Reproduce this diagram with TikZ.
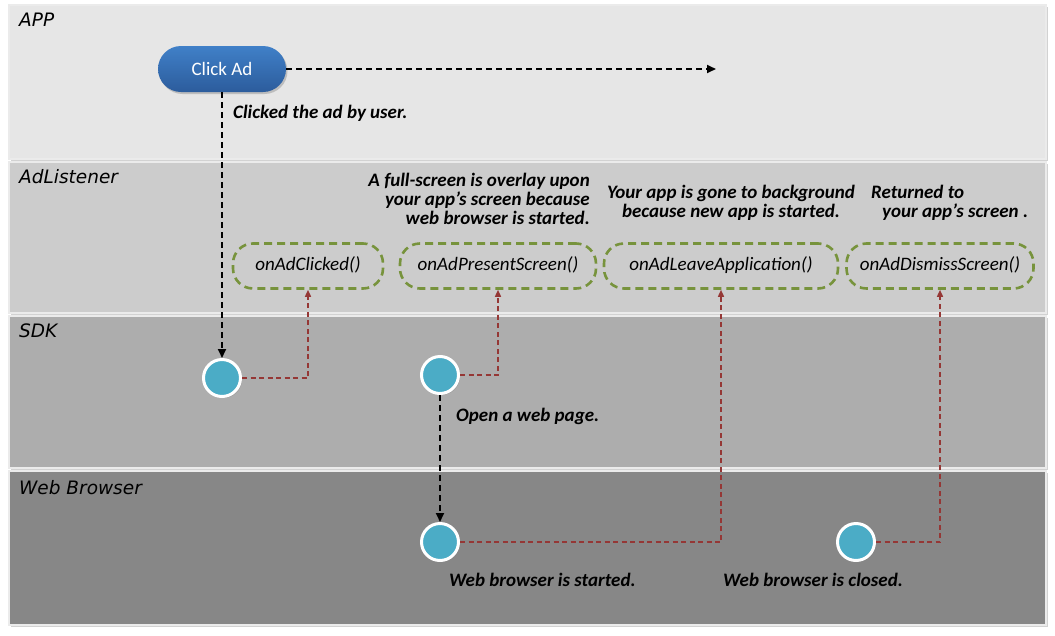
\documentclass[tikz,border=0pt]{standalone}
\usepackage{fontspec}
\setmainfont{Carlito}
\newfontfamily\lanefont{DejaVu Sans}
\usetikzlibrary{shadows,arrows.meta}
\definecolor{laneA}{HTML}{E6E6E6}
\definecolor{laneB}{HTML}{CCCCCC}
\definecolor{laneC}{HTML}{ADADAD}
\definecolor{laneD}{HTML}{878787}
\definecolor{evblue}{HTML}{4BACC6}
\definecolor{cbTop}{HTML}{4080C8}
\definecolor{cbBot}{HTML}{2C5C9C}
\definecolor{cbGreen}{HTML}{77933C}
\definecolor{cbRed}{HTML}{953735}
\tikzset{
  lane/.style={draw=white!92!black, line width=1.5pt, drop shadow={shadow xshift=2pt, shadow yshift=-2pt, opacity=0.35}},
  lanelabel/.style={font=\lanefont\itshape\fontsize{18.5}{22}\selectfont, anchor=base west, inner sep=0},
  event/.style={circle, draw=white, line width=3pt, fill=evblue, minimum size=37pt, inner sep=0, drop shadow={shadow xshift=1.5pt, shadow yshift=-1.5pt, opacity=0.4}},
  cbbox/.style={draw=cbGreen, line width=2.6pt, dash pattern=on 8pt off 5pt, rounded corners=20pt, minimum height=45pt, inner sep=0, text height=13pt, text depth=4pt, font=\itshape\fontsize{19}{22}\selectfont},
  caption/.style={font=\bfseries\itshape\fontsize{19}{19}\selectfont, inner sep=0},
  blk/.style={draw=black, line width=1.8pt, dash pattern=on 6pt off 4pt, -{Triangle[length=9pt,width=8pt]}},
  red/.style={draw=cbRed, line width=1.5pt, dash pattern=on 5pt off 3.5pt, -{Triangle[length=7pt,width=6pt]}},
}
\begin{document}
\begin{tikzpicture}[x=1pt,y=-1pt]
\useasboundingbox (0,0) rectangle (1055,635);
\fill[white] (0,0) rectangle (1055,635);
% lanes
\path[lane, fill=laneA] (9,5) rectangle (1046,159);
\path[lane, fill=laneB] (9,162) rectangle (1046,313);
\path[lane, fill=laneC] (9,316) rectangle (1046,468);
\path[lane, fill=laneD] (9,471) rectangle (1046,625);
\node[lanelabel] (lApp) at (19,26) {APP};
\node[lanelabel] (lAdl) at (19,183) {AdListener};
\node[lanelabel] (lSdk) at (19,337) {SDK};
\node[lanelabel] (lWeb) at (19,494) {Web Browser};
% click ad
\node[rounded corners=23pt, minimum width=128pt, minimum height=46pt, top color=cbTop, bottom color=cbBot, text=white, font=\fontsize{19}{22}\selectfont, drop shadow={shadow xshift=1.5pt, shadow yshift=-2pt, opacity=0.4}] (click) at (222,69) {Click Ad};
\coordinate (appEnd) at (716,69);
% events
\node[event] (e1) at (222,378) {};
\node[event] (e2) at (440,375) {};
\node[event] (e3) at (440,542) {};
\node[event] (e4) at (856,542) {};
% callbacks
\node[cbbox, minimum width=150pt] (b1) at (308,266) {onAdClicked()};
\node[cbbox, minimum width=196pt] (b2) at (498,266) {onAdPresentScreen()};
\node[cbbox, minimum width=234pt] (b3) at (721,266) {onAdLeaveApplication()};
\node[cbbox, minimum width=187pt] (b4) at (940,266) {onAdDismissScreen()};
% captions
\node[caption, anchor=base west] (t1) at (233,118) {Clicked the ad by user.};
\node[caption, anchor=base east, align=right] (t2) at (590,224) {A full-screen is overlay upon\\your app’s screen because\\web browser is started.};
\node[caption, anchor=base, align=center] (t3) at (731,217) {Your app is gone to background\\because new app is started.};
\node[caption, anchor=base west, align=left] (t4) at (871,217) {Returned to\\\hspace*{11pt}your app’s screen .};
\node[caption, anchor=base west] (t5) at (456,421) {Open a web page.};
\node[caption, anchor=base west] (t6) at (449,586) {Web browser is started.};
\node[caption, anchor=base west] (t7) at (723,586) {Web browser is closed.};
% connectors
\draw[blk] (click.east) -- (appEnd);
\draw[blk] (click.south) -- (e1.north);
\draw[blk] (e2.south) -- (e3.north);
\draw[red] (e1.east) -| (b1.south);
\draw[red] (e2.east) -| (b2.south);
\draw[red] (e3.east) -| (b3.south);
\draw[red] (e4.east) -| (b4.south);
\end{tikzpicture}
\end{document}
